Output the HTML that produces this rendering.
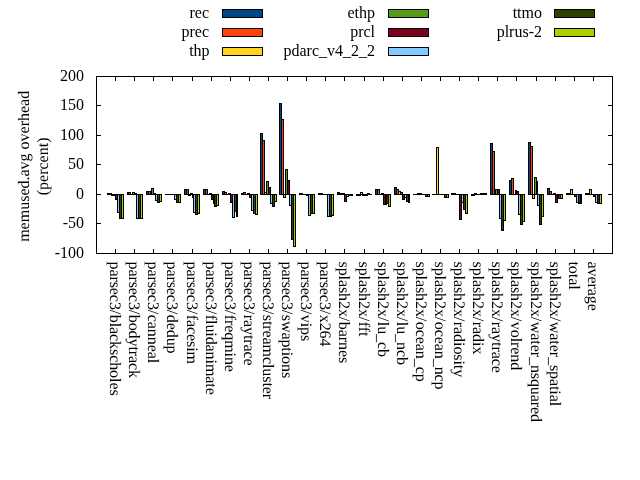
<!DOCTYPE html>
<html><head><meta charset="utf-8"><title>chart</title>
<style>text.r2{text-rendering:geometricPrecision}text.r{text-rendering:geometricPrecision;letter-spacing:-0.08px}html,body{margin:0;padding:0;background:#fff;overflow:hidden}svg{display:block;position:absolute;left:0;top:0}</style></head>
<body><svg width="640" height="480" viewBox="0 0 640 480">
<rect width="640" height="480" fill="#fff"/>
<g shape-rendering="crispEdges">
<rect x="107" y="193" width="3" height="2" fill="#000"/>
<rect x="127" y="192" width="2" height="3" fill="#000"/>
<rect x="146" y="191" width="3" height="4" fill="#000"/>
<rect x="147" y="192" width="1" height="2" fill="#004586"/>
<rect x="165" y="194" width="3" height="1" fill="#000"/>
<rect x="184" y="189" width="3" height="6" fill="#000"/>
<rect x="185" y="190" width="1" height="4" fill="#004586"/>
<rect x="203" y="189" width="3" height="6" fill="#000"/>
<rect x="204" y="190" width="1" height="4" fill="#004586"/>
<rect x="222" y="191" width="3" height="4" fill="#000"/>
<rect x="223" y="192" width="1" height="2" fill="#004586"/>
<rect x="241" y="193" width="3" height="2" fill="#000"/>
<rect x="260" y="133" width="3" height="62" fill="#000"/>
<rect x="261" y="134" width="1" height="60" fill="#004586"/>
<rect x="279" y="103" width="3" height="92" fill="#000"/>
<rect x="280" y="104" width="1" height="90" fill="#004586"/>
<rect x="299" y="193" width="2" height="2" fill="#000"/>
<rect x="318" y="193" width="3" height="2" fill="#000"/>
<rect x="337" y="192" width="3" height="3" fill="#000"/>
<rect x="338" y="193" width="1" height="1" fill="#004586"/>
<rect x="356" y="194" width="3" height="2" fill="#000"/>
<rect x="375" y="189" width="3" height="6" fill="#000"/>
<rect x="376" y="190" width="1" height="4" fill="#004586"/>
<rect x="394" y="187" width="3" height="8" fill="#000"/>
<rect x="395" y="188" width="1" height="6" fill="#004586"/>
<rect x="413" y="194" width="3" height="1" fill="#000"/>
<rect x="432" y="194" width="3" height="1" fill="#000"/>
<rect x="451" y="193" width="3" height="2" fill="#000"/>
<rect x="471" y="194" width="2" height="2" fill="#000"/>
<rect x="490" y="143" width="3" height="52" fill="#000"/>
<rect x="491" y="144" width="1" height="50" fill="#004586"/>
<rect x="509" y="180" width="3" height="15" fill="#000"/>
<rect x="510" y="181" width="1" height="13" fill="#004586"/>
<rect x="528" y="142" width="3" height="53" fill="#000"/>
<rect x="529" y="143" width="1" height="51" fill="#004586"/>
<rect x="547" y="188" width="3" height="7" fill="#000"/>
<rect x="548" y="189" width="1" height="5" fill="#004586"/>
<rect x="566" y="193" width="3" height="2" fill="#000"/>
<rect x="585" y="193" width="3" height="2" fill="#000"/>
<rect x="109" y="193" width="3" height="2" fill="#000"/>
<rect x="128" y="192" width="3" height="3" fill="#000"/>
<rect x="129" y="193" width="1" height="1" fill="#ff420e"/>
<rect x="148" y="191" width="3" height="4" fill="#000"/>
<rect x="149" y="192" width="1" height="2" fill="#ff420e"/>
<rect x="167" y="194" width="3" height="1" fill="#000"/>
<rect x="186" y="189" width="3" height="6" fill="#000"/>
<rect x="187" y="190" width="1" height="4" fill="#ff420e"/>
<rect x="205" y="189" width="3" height="6" fill="#000"/>
<rect x="206" y="190" width="1" height="4" fill="#ff420e"/>
<rect x="224" y="192" width="3" height="3" fill="#000"/>
<rect x="225" y="193" width="1" height="1" fill="#ff420e"/>
<rect x="243" y="192" width="3" height="3" fill="#000"/>
<rect x="244" y="193" width="1" height="1" fill="#ff420e"/>
<rect x="262" y="140" width="3" height="55" fill="#000"/>
<rect x="263" y="141" width="1" height="53" fill="#ff420e"/>
<rect x="281" y="119" width="3" height="76" fill="#000"/>
<rect x="282" y="120" width="1" height="74" fill="#ff420e"/>
<rect x="300" y="193" width="3" height="2" fill="#000"/>
<rect x="320" y="193" width="3" height="2" fill="#000"/>
<rect x="339" y="193" width="3" height="2" fill="#000"/>
<rect x="358" y="194" width="3" height="2" fill="#000"/>
<rect x="377" y="189" width="3" height="6" fill="#000"/>
<rect x="378" y="190" width="1" height="4" fill="#ff420e"/>
<rect x="396" y="189" width="3" height="6" fill="#000"/>
<rect x="397" y="190" width="1" height="4" fill="#ff420e"/>
<rect x="415" y="194" width="3" height="1" fill="#000"/>
<rect x="434" y="194" width="3" height="1" fill="#000"/>
<rect x="453" y="193" width="3" height="2" fill="#000"/>
<rect x="472" y="194" width="3" height="2" fill="#000"/>
<rect x="492" y="151" width="3" height="44" fill="#000"/>
<rect x="493" y="152" width="1" height="42" fill="#ff420e"/>
<rect x="511" y="178" width="3" height="17" fill="#000"/>
<rect x="512" y="179" width="1" height="15" fill="#ff420e"/>
<rect x="530" y="146" width="3" height="49" fill="#000"/>
<rect x="531" y="147" width="1" height="47" fill="#ff420e"/>
<rect x="549" y="191" width="3" height="4" fill="#000"/>
<rect x="550" y="192" width="1" height="2" fill="#ff420e"/>
<rect x="568" y="193" width="3" height="2" fill="#000"/>
<rect x="587" y="193" width="3" height="2" fill="#000"/>
<rect x="111" y="194" width="3" height="2" fill="#000"/>
<rect x="130" y="194" width="3" height="1" fill="#000"/>
<rect x="150" y="194" width="2" height="1" fill="#000"/>
<rect x="169" y="194" width="3" height="1" fill="#000"/>
<rect x="188" y="194" width="3" height="2" fill="#000"/>
<rect x="207" y="194" width="3" height="1" fill="#000"/>
<rect x="226" y="194" width="3" height="1" fill="#000"/>
<rect x="245" y="194" width="3" height="1" fill="#000"/>
<rect x="264" y="192" width="3" height="3" fill="#000"/>
<rect x="265" y="193" width="1" height="1" fill="#ffd320"/>
<rect x="283" y="194" width="3" height="4" fill="#000"/>
<rect x="284" y="195" width="1" height="2" fill="#ffd320"/>
<rect x="302" y="194" width="3" height="1" fill="#000"/>
<rect x="322" y="194" width="2" height="1" fill="#000"/>
<rect x="341" y="193" width="3" height="2" fill="#000"/>
<rect x="360" y="192" width="3" height="3" fill="#000"/>
<rect x="361" y="193" width="1" height="1" fill="#ffd320"/>
<rect x="379" y="194" width="3" height="1" fill="#000"/>
<rect x="398" y="191" width="3" height="4" fill="#000"/>
<rect x="399" y="192" width="1" height="2" fill="#ffd320"/>
<rect x="417" y="193" width="3" height="2" fill="#000"/>
<rect x="436" y="147" width="3" height="48" fill="#000"/>
<rect x="437" y="148" width="1" height="46" fill="#ffd320"/>
<rect x="455" y="194" width="3" height="1" fill="#000"/>
<rect x="474" y="193" width="3" height="2" fill="#000"/>
<rect x="494" y="189" width="2" height="6" fill="#000"/>
<rect x="513" y="194" width="3" height="1" fill="#000"/>
<rect x="532" y="194" width="3" height="5" fill="#000"/>
<rect x="533" y="195" width="1" height="3" fill="#ffd320"/>
<rect x="551" y="194" width="3" height="1" fill="#000"/>
<rect x="570" y="189" width="3" height="6" fill="#000"/>
<rect x="571" y="190" width="1" height="4" fill="#ffd320"/>
<rect x="589" y="189" width="3" height="6" fill="#000"/>
<rect x="590" y="190" width="1" height="4" fill="#ffd320"/>
<rect x="113" y="194" width="3" height="2" fill="#000"/>
<rect x="132" y="192" width="3" height="3" fill="#000"/>
<rect x="133" y="193" width="1" height="1" fill="#579d1c"/>
<rect x="151" y="188" width="3" height="7" fill="#000"/>
<rect x="152" y="189" width="1" height="5" fill="#579d1c"/>
<rect x="171" y="194" width="2" height="1" fill="#000"/>
<rect x="190" y="193" width="3" height="2" fill="#000"/>
<rect x="209" y="193" width="3" height="2" fill="#000"/>
<rect x="228" y="193" width="3" height="2" fill="#000"/>
<rect x="247" y="193" width="3" height="2" fill="#000"/>
<rect x="266" y="181" width="3" height="14" fill="#000"/>
<rect x="267" y="182" width="1" height="12" fill="#579d1c"/>
<rect x="285" y="169" width="3" height="26" fill="#000"/>
<rect x="286" y="170" width="1" height="24" fill="#579d1c"/>
<rect x="304" y="194" width="3" height="1" fill="#000"/>
<rect x="323" y="194" width="3" height="1" fill="#000"/>
<rect x="343" y="193" width="2" height="2" fill="#000"/>
<rect x="362" y="194" width="3" height="2" fill="#000"/>
<rect x="381" y="193" width="3" height="2" fill="#000"/>
<rect x="400" y="192" width="3" height="3" fill="#000"/>
<rect x="401" y="193" width="1" height="1" fill="#579d1c"/>
<rect x="419" y="193" width="3" height="2" fill="#000"/>
<rect x="438" y="194" width="3" height="1" fill="#000"/>
<rect x="457" y="194" width="3" height="1" fill="#000"/>
<rect x="476" y="194" width="3" height="1" fill="#000"/>
<rect x="495" y="189" width="3" height="6" fill="#000"/>
<rect x="496" y="190" width="1" height="4" fill="#579d1c"/>
<rect x="515" y="190" width="2" height="5" fill="#000"/>
<rect x="534" y="177" width="3" height="18" fill="#000"/>
<rect x="535" y="178" width="1" height="16" fill="#579d1c"/>
<rect x="553" y="193" width="3" height="2" fill="#000"/>
<rect x="572" y="194" width="3" height="1" fill="#000"/>
<rect x="591" y="194" width="3" height="1" fill="#000"/>
<rect x="115" y="194" width="3" height="6" fill="#000"/>
<rect x="116" y="195" width="1" height="4" fill="#7e0021"/>
<rect x="134" y="193" width="3" height="2" fill="#000"/>
<rect x="153" y="193" width="3" height="2" fill="#000"/>
<rect x="172" y="194" width="3" height="1" fill="#000"/>
<rect x="192" y="194" width="2" height="4" fill="#000"/>
<rect x="211" y="194" width="3" height="6" fill="#000"/>
<rect x="212" y="195" width="1" height="4" fill="#7e0021"/>
<rect x="230" y="194" width="3" height="9" fill="#000"/>
<rect x="231" y="195" width="1" height="7" fill="#7e0021"/>
<rect x="249" y="194" width="3" height="4" fill="#000"/>
<rect x="250" y="195" width="1" height="2" fill="#7e0021"/>
<rect x="268" y="187" width="3" height="8" fill="#000"/>
<rect x="269" y="188" width="1" height="6" fill="#7e0021"/>
<rect x="287" y="180" width="3" height="15" fill="#000"/>
<rect x="288" y="181" width="1" height="13" fill="#7e0021"/>
<rect x="306" y="194" width="3" height="2" fill="#000"/>
<rect x="325" y="194" width="3" height="1" fill="#000"/>
<rect x="344" y="194" width="3" height="8" fill="#000"/>
<rect x="345" y="195" width="1" height="6" fill="#7e0021"/>
<rect x="364" y="194" width="2" height="2" fill="#000"/>
<rect x="383" y="194" width="3" height="11" fill="#000"/>
<rect x="384" y="195" width="1" height="9" fill="#7e0021"/>
<rect x="402" y="194" width="3" height="6" fill="#000"/>
<rect x="403" y="195" width="1" height="4" fill="#7e0021"/>
<rect x="421" y="194" width="3" height="1" fill="#000"/>
<rect x="440" y="194" width="3" height="1" fill="#000"/>
<rect x="459" y="194" width="3" height="26" fill="#000"/>
<rect x="460" y="195" width="1" height="24" fill="#7e0021"/>
<rect x="478" y="194" width="3" height="1" fill="#000"/>
<rect x="497" y="189" width="3" height="6" fill="#000"/>
<rect x="498" y="190" width="1" height="4" fill="#7e0021"/>
<rect x="516" y="191" width="3" height="4" fill="#000"/>
<rect x="517" y="192" width="1" height="2" fill="#7e0021"/>
<rect x="536" y="181" width="2" height="14" fill="#000"/>
<rect x="555" y="194" width="3" height="9" fill="#000"/>
<rect x="556" y="195" width="1" height="7" fill="#7e0021"/>
<rect x="574" y="194" width="3" height="3" fill="#000"/>
<rect x="575" y="195" width="1" height="1" fill="#7e0021"/>
<rect x="593" y="194" width="3" height="3" fill="#000"/>
<rect x="594" y="195" width="1" height="1" fill="#7e0021"/>
<rect x="117" y="194" width="3" height="19" fill="#000"/>
<rect x="118" y="195" width="1" height="17" fill="#83caff"/>
<rect x="136" y="194" width="3" height="25" fill="#000"/>
<rect x="137" y="195" width="1" height="23" fill="#83caff"/>
<rect x="155" y="194" width="3" height="7" fill="#000"/>
<rect x="156" y="195" width="1" height="5" fill="#83caff"/>
<rect x="174" y="194" width="3" height="6" fill="#000"/>
<rect x="175" y="195" width="1" height="4" fill="#83caff"/>
<rect x="193" y="194" width="3" height="19" fill="#000"/>
<rect x="194" y="195" width="1" height="17" fill="#83caff"/>
<rect x="213" y="194" width="2" height="10" fill="#000"/>
<rect x="232" y="194" width="3" height="24" fill="#000"/>
<rect x="233" y="195" width="1" height="22" fill="#83caff"/>
<rect x="251" y="194" width="3" height="17" fill="#000"/>
<rect x="252" y="195" width="1" height="15" fill="#83caff"/>
<rect x="270" y="194" width="3" height="10" fill="#000"/>
<rect x="271" y="195" width="1" height="8" fill="#83caff"/>
<rect x="289" y="194" width="3" height="12" fill="#000"/>
<rect x="290" y="195" width="1" height="10" fill="#83caff"/>
<rect x="308" y="194" width="3" height="22" fill="#000"/>
<rect x="309" y="195" width="1" height="20" fill="#83caff"/>
<rect x="327" y="194" width="3" height="23" fill="#000"/>
<rect x="328" y="195" width="1" height="21" fill="#83caff"/>
<rect x="346" y="194" width="3" height="3" fill="#000"/>
<rect x="347" y="195" width="1" height="1" fill="#83caff"/>
<rect x="365" y="194" width="3" height="2" fill="#000"/>
<rect x="385" y="194" width="2" height="11" fill="#000"/>
<rect x="404" y="194" width="3" height="4" fill="#000"/>
<rect x="405" y="195" width="1" height="2" fill="#83caff"/>
<rect x="423" y="194" width="3" height="1" fill="#000"/>
<rect x="442" y="194" width="3" height="1" fill="#000"/>
<rect x="461" y="194" width="3" height="9" fill="#000"/>
<rect x="462" y="195" width="1" height="7" fill="#83caff"/>
<rect x="480" y="193" width="3" height="2" fill="#000"/>
<rect x="499" y="194" width="3" height="25" fill="#000"/>
<rect x="500" y="195" width="1" height="23" fill="#83caff"/>
<rect x="518" y="194" width="3" height="21" fill="#000"/>
<rect x="519" y="195" width="1" height="19" fill="#83caff"/>
<rect x="537" y="194" width="3" height="12" fill="#000"/>
<rect x="538" y="195" width="1" height="10" fill="#83caff"/>
<rect x="557" y="194" width="2" height="5" fill="#000"/>
<rect x="576" y="194" width="3" height="9" fill="#000"/>
<rect x="577" y="195" width="1" height="7" fill="#83caff"/>
<rect x="595" y="194" width="3" height="9" fill="#000"/>
<rect x="596" y="195" width="1" height="7" fill="#83caff"/>
<rect x="119" y="194" width="3" height="25" fill="#000"/>
<rect x="120" y="195" width="1" height="23" fill="#314004"/>
<rect x="138" y="194" width="3" height="25" fill="#000"/>
<rect x="139" y="195" width="1" height="23" fill="#314004"/>
<rect x="157" y="194" width="3" height="9" fill="#000"/>
<rect x="158" y="195" width="1" height="7" fill="#314004"/>
<rect x="176" y="194" width="3" height="9" fill="#000"/>
<rect x="177" y="195" width="1" height="7" fill="#314004"/>
<rect x="195" y="194" width="3" height="21" fill="#000"/>
<rect x="196" y="195" width="1" height="19" fill="#314004"/>
<rect x="214" y="194" width="3" height="13" fill="#000"/>
<rect x="215" y="195" width="1" height="11" fill="#314004"/>
<rect x="234" y="194" width="3" height="18" fill="#000"/>
<rect x="235" y="195" width="1" height="16" fill="#314004"/>
<rect x="253" y="194" width="3" height="20" fill="#000"/>
<rect x="254" y="195" width="1" height="18" fill="#314004"/>
<rect x="272" y="194" width="3" height="13" fill="#000"/>
<rect x="273" y="195" width="1" height="11" fill="#314004"/>
<rect x="291" y="194" width="3" height="46" fill="#000"/>
<rect x="292" y="195" width="1" height="44" fill="#314004"/>
<rect x="310" y="194" width="3" height="20" fill="#000"/>
<rect x="311" y="195" width="1" height="18" fill="#314004"/>
<rect x="329" y="194" width="3" height="23" fill="#000"/>
<rect x="330" y="195" width="1" height="21" fill="#314004"/>
<rect x="348" y="194" width="3" height="2" fill="#000"/>
<rect x="367" y="193" width="3" height="2" fill="#000"/>
<rect x="386" y="194" width="3" height="10" fill="#000"/>
<rect x="387" y="195" width="1" height="8" fill="#314004"/>
<rect x="406" y="194" width="3" height="8" fill="#000"/>
<rect x="407" y="195" width="1" height="6" fill="#314004"/>
<rect x="425" y="194" width="3" height="3" fill="#000"/>
<rect x="426" y="195" width="1" height="1" fill="#314004"/>
<rect x="444" y="194" width="3" height="4" fill="#000"/>
<rect x="445" y="195" width="1" height="2" fill="#314004"/>
<rect x="463" y="194" width="3" height="16" fill="#000"/>
<rect x="464" y="195" width="1" height="14" fill="#314004"/>
<rect x="482" y="193" width="3" height="2" fill="#000"/>
<rect x="501" y="194" width="3" height="37" fill="#000"/>
<rect x="502" y="195" width="1" height="35" fill="#314004"/>
<rect x="520" y="194" width="3" height="31" fill="#000"/>
<rect x="521" y="195" width="1" height="29" fill="#314004"/>
<rect x="539" y="194" width="3" height="31" fill="#000"/>
<rect x="540" y="195" width="1" height="29" fill="#314004"/>
<rect x="558" y="194" width="3" height="5" fill="#000"/>
<rect x="559" y="195" width="1" height="3" fill="#314004"/>
<rect x="578" y="194" width="3" height="10" fill="#000"/>
<rect x="579" y="195" width="1" height="8" fill="#314004"/>
<rect x="597" y="194" width="3" height="10" fill="#000"/>
<rect x="598" y="195" width="1" height="8" fill="#314004"/>
<rect x="121" y="194" width="3" height="25" fill="#000"/>
<rect x="122" y="195" width="1" height="23" fill="#aecf00"/>
<rect x="140" y="194" width="3" height="25" fill="#000"/>
<rect x="141" y="195" width="1" height="23" fill="#aecf00"/>
<rect x="159" y="194" width="3" height="8" fill="#000"/>
<rect x="160" y="195" width="1" height="6" fill="#aecf00"/>
<rect x="178" y="194" width="3" height="9" fill="#000"/>
<rect x="179" y="195" width="1" height="7" fill="#aecf00"/>
<rect x="197" y="194" width="3" height="20" fill="#000"/>
<rect x="198" y="195" width="1" height="18" fill="#aecf00"/>
<rect x="216" y="194" width="3" height="12" fill="#000"/>
<rect x="217" y="195" width="1" height="10" fill="#aecf00"/>
<rect x="236" y="194" width="2" height="23" fill="#000"/>
<rect x="255" y="194" width="3" height="21" fill="#000"/>
<rect x="256" y="195" width="1" height="19" fill="#aecf00"/>
<rect x="274" y="194" width="3" height="8" fill="#000"/>
<rect x="275" y="195" width="1" height="6" fill="#aecf00"/>
<rect x="293" y="194" width="3" height="53" fill="#000"/>
<rect x="294" y="195" width="1" height="51" fill="#aecf00"/>
<rect x="312" y="194" width="3" height="20" fill="#000"/>
<rect x="313" y="195" width="1" height="18" fill="#aecf00"/>
<rect x="331" y="194" width="3" height="22" fill="#000"/>
<rect x="332" y="195" width="1" height="20" fill="#aecf00"/>
<rect x="350" y="194" width="3" height="2" fill="#000"/>
<rect x="369" y="194" width="3" height="1" fill="#000"/>
<rect x="388" y="194" width="3" height="13" fill="#000"/>
<rect x="389" y="195" width="1" height="11" fill="#aecf00"/>
<rect x="408" y="194" width="2" height="9" fill="#000"/>
<rect x="427" y="194" width="3" height="3" fill="#000"/>
<rect x="428" y="195" width="1" height="1" fill="#aecf00"/>
<rect x="446" y="194" width="3" height="4" fill="#000"/>
<rect x="447" y="195" width="1" height="2" fill="#aecf00"/>
<rect x="465" y="194" width="3" height="20" fill="#000"/>
<rect x="466" y="195" width="1" height="18" fill="#aecf00"/>
<rect x="484" y="193" width="3" height="2" fill="#000"/>
<rect x="503" y="194" width="3" height="27" fill="#000"/>
<rect x="504" y="195" width="1" height="25" fill="#aecf00"/>
<rect x="522" y="194" width="3" height="28" fill="#000"/>
<rect x="523" y="195" width="1" height="26" fill="#aecf00"/>
<rect x="541" y="194" width="3" height="23" fill="#000"/>
<rect x="542" y="195" width="1" height="21" fill="#aecf00"/>
<rect x="560" y="194" width="3" height="5" fill="#000"/>
<rect x="561" y="195" width="1" height="3" fill="#aecf00"/>
<rect x="580" y="194" width="2" height="10" fill="#000"/>
<rect x="599" y="194" width="3" height="10" fill="#000"/>
<rect x="600" y="195" width="1" height="8" fill="#aecf00"/>
<rect x="96" y="76" width="517" height="1" fill="#000"/>
<rect x="96" y="253" width="517" height="1" fill="#000"/>
<rect x="96" y="76" width="1" height="178" fill="#000"/>
<rect x="612" y="76" width="1" height="178" fill="#000"/>
<rect x="96" y="76" width="5" height="1" fill="#000"/>
<rect x="608" y="76" width="5" height="1" fill="#000"/>
<rect x="96" y="105" width="5" height="1" fill="#000"/>
<rect x="608" y="105" width="5" height="1" fill="#000"/>
<rect x="96" y="135" width="5" height="1" fill="#000"/>
<rect x="608" y="135" width="5" height="1" fill="#000"/>
<rect x="96" y="164" width="5" height="1" fill="#000"/>
<rect x="608" y="164" width="5" height="1" fill="#000"/>
<rect x="96" y="194" width="5" height="1" fill="#000"/>
<rect x="608" y="194" width="5" height="1" fill="#000"/>
<rect x="96" y="223" width="5" height="1" fill="#000"/>
<rect x="608" y="223" width="5" height="1" fill="#000"/>
<rect x="96" y="253" width="5" height="1" fill="#000"/>
<rect x="608" y="253" width="5" height="1" fill="#000"/>
<rect x="115" y="76" width="1" height="5" fill="#000"/>
<rect x="115" y="249" width="1" height="5" fill="#000"/>
<rect x="134" y="76" width="1" height="5" fill="#000"/>
<rect x="134" y="249" width="1" height="5" fill="#000"/>
<rect x="153" y="76" width="1" height="5" fill="#000"/>
<rect x="153" y="249" width="1" height="5" fill="#000"/>
<rect x="172" y="76" width="1" height="5" fill="#000"/>
<rect x="172" y="249" width="1" height="5" fill="#000"/>
<rect x="192" y="76" width="1" height="5" fill="#000"/>
<rect x="192" y="249" width="1" height="5" fill="#000"/>
<rect x="211" y="76" width="1" height="5" fill="#000"/>
<rect x="211" y="249" width="1" height="5" fill="#000"/>
<rect x="230" y="76" width="1" height="5" fill="#000"/>
<rect x="230" y="249" width="1" height="5" fill="#000"/>
<rect x="249" y="76" width="1" height="5" fill="#000"/>
<rect x="249" y="249" width="1" height="5" fill="#000"/>
<rect x="268" y="76" width="1" height="5" fill="#000"/>
<rect x="268" y="249" width="1" height="5" fill="#000"/>
<rect x="287" y="76" width="1" height="5" fill="#000"/>
<rect x="287" y="249" width="1" height="5" fill="#000"/>
<rect x="306" y="76" width="1" height="5" fill="#000"/>
<rect x="306" y="249" width="1" height="5" fill="#000"/>
<rect x="325" y="76" width="1" height="5" fill="#000"/>
<rect x="325" y="249" width="1" height="5" fill="#000"/>
<rect x="344" y="76" width="1" height="5" fill="#000"/>
<rect x="344" y="249" width="1" height="5" fill="#000"/>
<rect x="364" y="76" width="1" height="5" fill="#000"/>
<rect x="364" y="249" width="1" height="5" fill="#000"/>
<rect x="383" y="76" width="1" height="5" fill="#000"/>
<rect x="383" y="249" width="1" height="5" fill="#000"/>
<rect x="402" y="76" width="1" height="5" fill="#000"/>
<rect x="402" y="249" width="1" height="5" fill="#000"/>
<rect x="421" y="76" width="1" height="5" fill="#000"/>
<rect x="421" y="249" width="1" height="5" fill="#000"/>
<rect x="440" y="76" width="1" height="5" fill="#000"/>
<rect x="440" y="249" width="1" height="5" fill="#000"/>
<rect x="459" y="76" width="1" height="5" fill="#000"/>
<rect x="459" y="249" width="1" height="5" fill="#000"/>
<rect x="478" y="76" width="1" height="5" fill="#000"/>
<rect x="478" y="249" width="1" height="5" fill="#000"/>
<rect x="497" y="76" width="1" height="5" fill="#000"/>
<rect x="497" y="249" width="1" height="5" fill="#000"/>
<rect x="516" y="76" width="1" height="5" fill="#000"/>
<rect x="516" y="249" width="1" height="5" fill="#000"/>
<rect x="536" y="76" width="1" height="5" fill="#000"/>
<rect x="536" y="249" width="1" height="5" fill="#000"/>
<rect x="555" y="76" width="1" height="5" fill="#000"/>
<rect x="555" y="249" width="1" height="5" fill="#000"/>
<rect x="574" y="76" width="1" height="5" fill="#000"/>
<rect x="574" y="249" width="1" height="5" fill="#000"/>
<rect x="593" y="76" width="1" height="5" fill="#000"/>
<rect x="593" y="249" width="1" height="5" fill="#000"/>
<rect x="222" y="9" width="41" height="9" fill="#000"/>
<rect x="223" y="10" width="39" height="7" fill="#004586"/>
<rect x="222" y="28" width="41" height="9" fill="#000"/>
<rect x="223" y="29" width="39" height="7" fill="#ff420e"/>
<rect x="222" y="47" width="41" height="9" fill="#000"/>
<rect x="223" y="48" width="39" height="7" fill="#ffd320"/>
<rect x="388" y="9" width="41" height="9" fill="#000"/>
<rect x="389" y="10" width="39" height="7" fill="#579d1c"/>
<rect x="388" y="28" width="41" height="9" fill="#000"/>
<rect x="389" y="29" width="39" height="7" fill="#7e0021"/>
<rect x="388" y="47" width="41" height="9" fill="#000"/>
<rect x="389" y="48" width="39" height="7" fill="#83caff"/>
<rect x="554" y="9" width="41" height="9" fill="#000"/>
<rect x="555" y="10" width="39" height="7" fill="#314004"/>
<rect x="554" y="28" width="41" height="9" fill="#000"/>
<rect x="555" y="29" width="39" height="7" fill="#aecf00"/>
</g>
<g font-family="Liberation Serif, serif" font-size="16" fill="#000" style="will-change:transform">
<text x="209" y="17.5" text-anchor="end">rec</text>
<text x="209" y="36.5" text-anchor="end">prec</text>
<text x="209.6" y="55.5" text-anchor="end">thp</text>
<text x="375" y="17.5" text-anchor="end">ethp</text>
<text x="375" y="36.5" text-anchor="end">prcl</text>
<text x="375" y="55.5" text-anchor="end">pdarc_v4_2_2</text>
<text x="542" y="17.5" text-anchor="end">ttmo</text>
<text x="542" y="36.5" text-anchor="end">plrus-2</text>
<text x="84" y="80.5" text-anchor="end">200</text>
<text x="84" y="110.0" text-anchor="end">150</text>
<text x="84" y="139.5" text-anchor="end">100</text>
<text x="84" y="169.0" text-anchor="end">50</text>
<text x="84" y="198.5" text-anchor="end">0</text>
<text x="84" y="228.0" text-anchor="end">-50</text>
<text x="84" y="257.5" text-anchor="end">-100</text>
<text class="r" transform="translate(109.8,261.5) rotate(90)">parsec3/<tspan dx="0.6">blackscholes</tspan></text>
<text class="r" transform="translate(128.8,261.5) rotate(90)">parsec3/<tspan dx="0.6">bodytrack</tspan></text>
<text class="r" transform="translate(147.8,261.5) rotate(90)">parsec3/<tspan dx="0.6">canneal</tspan></text>
<text class="r" transform="translate(166.8,261.5) rotate(90)">parsec3/<tspan dx="0.6">dedup</tspan></text>
<text class="r" transform="translate(186.8,261.5) rotate(90)">parsec3/<tspan dx="0.6">facesim</tspan></text>
<text class="r" transform="translate(205.8,261.5) rotate(90)">parsec3/<tspan dx="0.6">fluidanimate</tspan></text>
<text class="r" transform="translate(224.8,261.5) rotate(90)">parsec3/<tspan dx="0.6">freqmine</tspan></text>
<text class="r" transform="translate(243.8,261.5) rotate(90)">parsec3/<tspan dx="0.6">raytrace</tspan></text>
<text class="r" transform="translate(262.8,261.5) rotate(90)">parsec3/<tspan dx="0.6">streamcluster</tspan></text>
<text class="r" transform="translate(281.8,261.5) rotate(90)">parsec3/<tspan dx="0.6">swaptions</tspan></text>
<text class="r" transform="translate(300.8,261.5) rotate(90)">parsec3/<tspan dx="0.6">vips</tspan></text>
<text class="r" transform="translate(319.8,261.5) rotate(90)">parsec3/<tspan dx="0.6">x264</tspan></text>
<text class="r" transform="translate(338.8,261.5) rotate(90)">splash2x/<tspan dx="0.6">barnes</tspan></text>
<text class="r" transform="translate(358.8,261.5) rotate(90)">splash2x/<tspan dx="0.6">fft</tspan></text>
<text class="r" transform="translate(377.8,261.5) rotate(90)">splash2x/<tspan dx="0.6">lu_cb</tspan></text>
<text class="r" transform="translate(396.8,261.5) rotate(90)">splash2x/<tspan dx="0.6">lu_ncb</tspan></text>
<text class="r" transform="translate(415.8,261.5) rotate(90)">splash2x/<tspan dx="0.6">ocean_cp</tspan></text>
<text class="r" transform="translate(434.8,261.5) rotate(90)">splash2x/<tspan dx="0.6">ocean_ncp</tspan></text>
<text class="r" transform="translate(453.8,261.5) rotate(90)">splash2x/<tspan dx="0.6">radiosity</tspan></text>
<text class="r" transform="translate(472.8,261.5) rotate(90)">splash2x/<tspan dx="0.6">radix</tspan></text>
<text class="r" transform="translate(491.8,261.5) rotate(90)">splash2x/<tspan dx="0.6">raytrace</tspan></text>
<text class="r" transform="translate(510.8,261.5) rotate(90)">splash2x/<tspan dx="0.6">volrend</tspan></text>
<text class="r" transform="translate(530.8,261.5) rotate(90)">splash2x/<tspan dx="0.6">water_nsquared</tspan></text>
<text class="r" transform="translate(549.8,261.5) rotate(90)">splash2x/<tspan dx="0.6">water_spatial</tspan></text>
<text class="r" transform="translate(568.8,261.5) rotate(90)">total</text>
<text class="r" transform="translate(587.8,261.5) rotate(90)">average</text>
<text class="r2" transform="translate(29,166.3) rotate(-90)" text-anchor="middle">memused.avg overhead</text>
<text class="r2" transform="translate(48,166.4) rotate(-90)" text-anchor="middle">(percent)</text>
</g>
</svg></body></html>
